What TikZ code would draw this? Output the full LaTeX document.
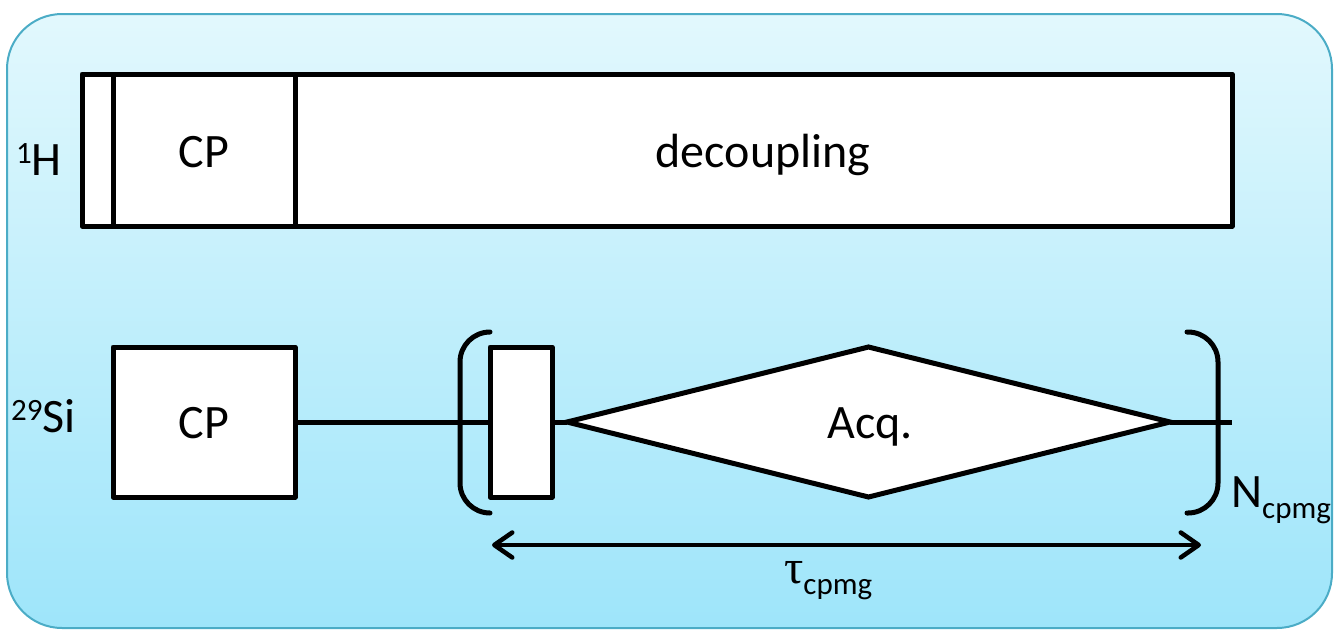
\documentclass[tikz,border=0pt]{standalone}
\usepackage{fontspec}
\setmainfont{Carlito}
\newfontfamily\taufont{Liberation Serif}
\usetikzlibrary{shapes.geometric,arrows.meta}
\definecolor{bgtop}{RGB}{226,248,253}
\definecolor{bgbot}{RGB}{158,229,250}
\definecolor{bgline}{RGB}{75,172,198}
\newcommand{\supnum}[1]{\raisebox{12pt}{\fontsize{31}{32}\selectfont #1}}
\newcommand{\subtxt}[1]{\raisebox{-11pt}{\fontsize{31}{32}\selectfont #1}}
\tikzset{barbtip/.tip={Straight Barb[length=18pt,width=25pt,line cap=round,line join=round]}}
\begin{document}
\begin{tikzpicture}[x=1pt,y=-1pt,
  pulsebox/.style={draw,line width=5pt,fill=white,line join=round,inner sep=0pt,outer sep=0pt},
  acqshape/.style={draw,diamond,line width=5pt,fill=white,line join=miter,inner sep=0pt,outer sep=0pt},
  lbl/.style={font=\fontsize{48}{52}\selectfont,inner sep=0pt,anchor=base},
  wire/.style={line width=5pt},
  brk/.style={line width=5pt,rounded corners=30pt,line cap=round},
  dimarrow/.style={line width=4.5pt,barbtip-barbtip}]
\useasboundingbox (0,0) rectangle (1334,630);
% background panel
\draw[bgline,line width=2pt,top color=bgtop,bottom color=bgbot,rounded corners=55pt] (7,14) rectangle (1332,628);

% 1H channel
\node[pulsebox,minimum width=1150pt,minimum height=152pt] (hbox) at (657,150) {};
\draw[wire] ([xshift=31pt]hbox.north west) -- ([xshift=31pt]hbox.south west);
\draw[wire] ([xshift=213pt]hbox.north west) -- ([xshift=213pt]hbox.south west);
\node[lbl] (hcp) at (204,167) {CP};
\node[lbl] (dec) at (763,167) {decoupling};
\node[lbl,anchor=base west] (hlab) at (16,175) {\supnum{1}H};

% 29Si channel
\node[pulsebox,minimum width=182pt,minimum height=150pt] (sicp) at (204,422) {};
\node[lbl] (sicptxt) at (204,438) {CP};
\node[lbl,anchor=base west] (silab) at (11,432) {\supnum{29}Si};
\node[pulsebox,minimum width=62pt,minimum height=150pt] (pi) at (521,422) {};
\node[acqshape,minimum width=603pt,minimum height=150pt] (acq) at (868.5,422) {};
\node[lbl] (acqtxt) at (870,438) {Acq.};
\coordinate (wend) at (1232,422);
\draw[wire] (sicp.east) -- (pi.west);
\draw[wire] (pi.east) -- (acq.west);
\draw[wire] (acq.east) -- (wend);

% brackets
\draw[brk] (490,332) -- (460,332) -- (460,513) -- (490,513);
\draw[brk] (1187,332) -- (1218,332) -- (1218,513) -- (1187,513);
\node[lbl,anchor=base west] (ncpmg) at (1231,507) {N\subtxt{cpmg}};

% tau arrow
\coordinate (aL) at (492,545);
\coordinate (aR) at (1201,545);
\draw[dimarrow] (aL) -- (aR);
\node[lbl,anchor=base west] (tau) at (784,583) {{\taufont τ}\subtxt{cpmg}};
\end{tikzpicture}
\end{document}
